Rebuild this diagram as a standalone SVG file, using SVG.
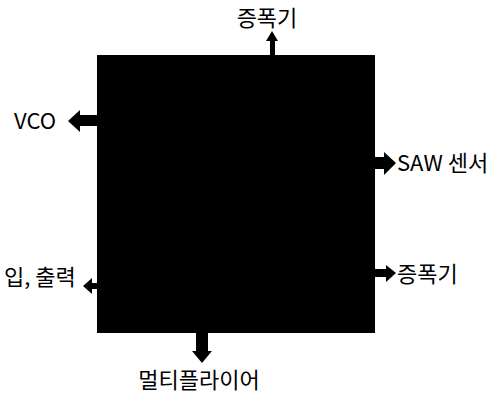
<svg xmlns="http://www.w3.org/2000/svg" width="494" height="395" viewBox="0 0 494 395">
<style>
.lbl{font-family:"Noto Sans CJK KR","Noto Sans",sans-serif;font-size:22px;fill:#000}
.arr{fill:#000}
</style>
<rect width="494" height="395" fill="#fff"/>
<g id="chip"><rect x="97" y="55" width="278" height="278" fill="#000"/></g>
<g id="connectors">
<polygon class="arr" points="270,55 270,41 266,41 272,31 278,41 275,41 275,55"/>
<polygon class="arr" points="97,115 80,115 80,110 68,121 80,132 80,126 97,126"/>
<polygon class="arr" points="375,157 384,157 384,152 396,163 384,175 384,169 375,169"/>
<polygon class="arr" points="97,283 92,283 92,278 83,286 92,294 92,289 97,289"/>
<polygon class="arr" points="375,269 386,269 386,265 396,273 386,282 386,277 375,277"/>
<polygon class="arr" points="196,333 196,351 192,351 202,363 212,351 208,351 208,333"/>
</g>
<g id="label-top"><text class="lbl" x="267" y="26" text-anchor="middle">증폭기</text></g>
<g id="label-vco"><text class="lbl" x="14" y="129">VCO</text></g>
<g id="label-saw"><text class="lbl" x="397" y="171">SAW 센서</text></g>
<g id="label-io"><text class="lbl" x="4" y="285">입, 출력</text></g>
<g id="label-amp"><text class="lbl" x="397" y="282">증폭기</text></g>
<g id="label-mult"><text class="lbl" x="199" y="388" text-anchor="middle">멀티플라이어</text></g>
</svg>
